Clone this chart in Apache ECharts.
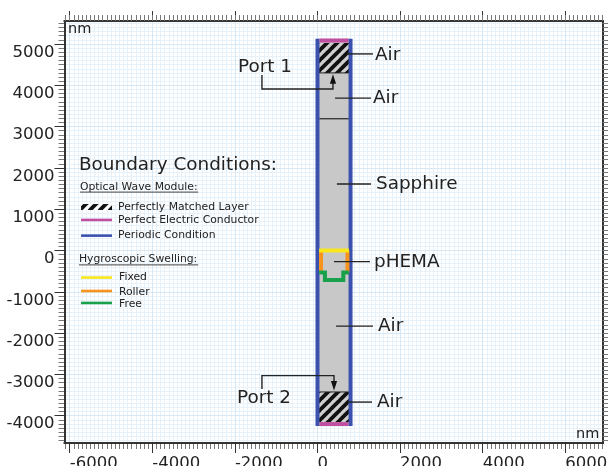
<!DOCTYPE html>
<html><head><meta charset="utf-8">
<style>html,body{margin:0;padding:0;background:#fff}#c{width:608px;height:466px}</style>
<script src="https://cdn.jsdelivr.net/npm/echarts@6/dist/echarts.min.js"></script>
</head><body><div id="c"></div>
<script>
// Tick labels
const xTickValues = [-6000,-4000,-2000,0,2000,4000,6000];
const yTickValues = [-4000,-3000,-2000,-1000,0,1000,2000,3000,4000,5000];
// Geometry (nm)
const bodyRect = [0,-4250,800,5130];
const pmlRects = [[0,4300,800,5025],[0,-4150,800,-3425]];
const periodicLeft = [[0,5130],[0,-4250]];
const periodicRight = [[800,5130],[800,-4250]];
const pecTop = [[50,5085],[750,5085]];
const pecBottom = [[50,-4203],[750,-4203]];
const portLineTop = [[40,4300],[760,4300]];
const portLineBottom = [[40,-3425],[760,-3425]];
const innerLine = [[40,3190],[760,3190]];
const fixedLine = [[40,0],[760,0]];
const rollerLeft = [[85,0],[85,-530]];
const rollerRight = [[725,0],[725,-530]];
const freeLine = [[40,-530],[180,-530],[180,-715],[625,-715],[625,-530],[760,-530]];
// Leader lines
const leaders = [
  [[715,4760],[1345,4760]],
  [[425,3690],[1295,3690]],
  [[470,1610],[1295,1610]],
  [[400,-270],[1270,-270]],
  [[450,-1830],[1345,-1830]],
  [[740,-3670],[1320,-3670]],
  [[-1345,4250],[-1345,3910],[375,3910],[375,4100]],
  [[-1345,-3355],[-1345,-3030],[400,-3030],[400,-3200]]
];
const arrowHeads = [
  [[375,4270],[300,4040],[450,4040]],
  [[400,-3390],[325,-3160],[475,-3160]]
];
// Key swatches
const keyHatch = [-5725,980,-4975,1125];
const keyLines = [
  {y:740,c:'#c04fa2'},{y:360,c:'#3a52ae'},{y:-655,c:'#f8e71c'},{y:-980,c:'#f7941d'},{y:-1270,c:'#18a04a'}
];
const keyUnderlines = [[[-5750,1415],[-2890,1415]],[[-5775,-350],[-2890,-350]]];
// Text
const font = '"DejaVu Sans"';
const bigLabels = [['Air',375,55],['Air',373,98],['Sapphire',376,184],['pHEMA',374,262],['Air',378,326],['Air',377,402],['Port 1',238,67],['Port 2',237,398],['Boundary Conditions:',79,165]];
const smallLabels = [['Optical Wave Module:',80,187],['Perfectly Matched Layer',118,207],['Perfect Electric Conductor',118,220],['Periodic Condition',118,235],['Hygroscopic Swelling:',79,259],['Fixed',119,277],['Roller',119,292],['Free',119,304]];
const unitLabels = [['nm',68,29],['nm',576,434]];

const minorX=[],minorY=[];
for(let v=-6100;v<=6900;v+=100)minorX.push(v);
for(let v=-4600;v<=5500;v+=100)minorY.push(v);

function hatch(bg){
  const s=10,c=document.createElement('canvas');c.width=s;c.height=s;
  const g=c.getContext('2d');g.fillStyle=bg;g.fillRect(0,0,s,s);
  g.strokeStyle='#111';g.lineWidth=3.8;
  for(const o of [-s,0,s]){g.beginPath();g.moveTo(o-1,s+1);g.lineTo(o+s+1,-1);g.stroke();}
  return c;
}
const XMIN=-6126,XMAX=6901,YMIN=-4661,YMAX=5557;
const AX='#333',TK='#777';
const fmt=v=>String(v);
function xAx(pos,vals,len,labels,split,z){return {type:'value',position:pos,min:XMIN,max:XMAX,
  axisLine:{show:true,onZero:false,lineStyle:{color:AX,width:2}},
  axisTick:{show:true,length:len,customValues:vals,lineStyle:{color:len>7?'#333':TK,width:1}},
  axisLabel:labels?{show:true,customValues:xTickValues,formatter:fmt,color:'#222',fontSize:16.5,fontFamily:font,margin:12,align:'left',hideOverlap:false}:{show:false},
  splitLine:split?{show:true,lineStyle:{color:split,width:1}}:{show:false},z:z};}
function yAx(pos,vals,len,labels,split,z){return {type:'value',position:pos,min:YMIN,max:YMAX,
  axisLine:{show:true,onZero:false,lineStyle:{color:AX,width:2}},
  axisTick:{show:true,length:len,customValues:vals,lineStyle:{color:len>7?'#333':TK,width:1}},
  axisLabel:labels?{show:true,customValues:yTickValues,formatter:fmt,color:'#222',fontSize:16.5,fontFamily:font,margin:10,verticalAlign:'top',hideOverlap:false}:{show:false},
  splitLine:split?{show:true,lineStyle:{color:split,width:1}}:{show:false},z:z};}

function line(data,color,width,z){return {type:'line',data:data,showSymbol:false,silent:true,animation:false,clip:false,z:z,
  lineStyle:{color:color,width:width,cap:'butt',join:'miter'}};}
function rectSeries(rects,fill,z){return {type:'custom',silent:true,animation:false,z:z,clip:false,
  data:rects,encode:{x:[0,2],y:[1,3]},
  renderItem:function(p,api){
    const a=api.coord([api.value(0),api.value(1)]),b=api.coord([api.value(2),api.value(3)]);
    return {type:'rect',shape:{x:Math.min(a[0],b[0]),y:Math.min(a[1],b[1]),width:Math.abs(a[0]-b[0]),height:Math.abs(a[1]-b[1])},style:{fill:fill}};
  }};}
const arrowSeries={type:'custom',silent:true,animation:false,z:9,clip:false,
  data:arrowHeads.map(h=>h.flat()),encode:{x:[0,2,4],y:[1,3,5]},
  renderItem:function(p,api){
    const pts=[0,2,4].map(i=>api.coord([api.value(i),api.value(i+1)]));
    return {type:'polygon',shape:{points:pts},style:{fill:'#111'}};
  }};
const series=[
  rectSeries([bodyRect],'#c8c8c8',3),
  rectSeries(pmlRects,{image:hatch('#cfcfcf'),repeat:'repeat'},4),
  rectSeries([keyHatch],{image:hatch('#ffffff'),repeat:'repeat'},4),
  line(portLineTop,'#222',1,5),line(portLineBottom,'#222',1,5),line(innerLine,'#222',1.2,5),
  line(periodicLeft,'#3a52ae',4,6),line(periodicRight,'#3a52ae',4,6),
  line(pecTop,'#c04fa2',4,7),line(pecBottom,'#c04fa2',4,7),
  line(rollerLeft,'#f7941d',4,6),line(rollerRight,'#f7941d',4,6),
  line(freeLine,'#18a04a',4,7),line(fixedLine,'#f8e71c',4,7),
  arrowSeries
];
leaders.forEach(l=>series.push(line(l,'#222',1.4,8)));
keyLines.forEach(k=>series.push(line([[-5725,k.y],[-4975,k.y]],k.c,2.6,8)));
keyUnderlines.forEach(u=>series.push(line(u,'#666',1.2,8)));

function texts(list,size){return list.map(t=>({type:'text',x:t[1],y:t[2],z:20,silent:true,
  style:{text:t[0],fill:'#222',font:size+'px '+font,textAlign:'left',textVerticalAlign:'middle'}}));}
const chart=echarts.init(document.getElementById('c'),null,{renderer:'canvas'});
chart.setOption({animation:false,backgroundColor:'#fff',
  grid:{left:64.5,top:21,width:538,height:422,containLabel:false,outerBoundsMode:'none'},
  xAxis:[xAx('bottom',xTickValues,10,true,'#d6e8f6',3),xAx('bottom',minorX,6,false,'#e6f1fa',2),
         xAx('top',xTickValues,10,false,null,3),xAx('top',minorX,6,false,null,3)],
  yAxis:[yAx('left',yTickValues,10,true,'#d6e8f6',3),yAx('left',minorY,6,false,'#e6f1fa',2),
         yAx('right',yTickValues,10,false,null,3),yAx('right',minorY,6,false,null,3)],
  series:series,
  graphic:texts(bigLabels,18.4).concat(texts(smallLabels,10.8)).concat(texts(unitLabels,14.5))
});
</script></body></html>
